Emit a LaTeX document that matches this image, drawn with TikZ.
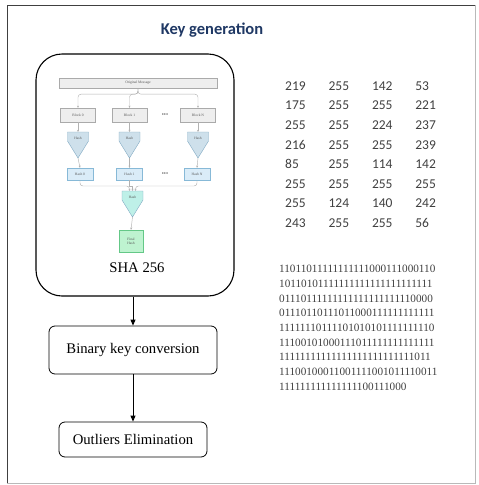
\documentclass[tikz,border=0pt]{standalone}
\usepackage{fontspec}
\setmainfont{Liberation Serif}
\newfontfamily\calibfont{Carlito}
\usetikzlibrary{calc, arrows.meta}

\definecolor{keyblue}{RGB}{31,56,100}
\definecolor{boxline}{RGB}{170,170,170}
\definecolor{boxfill}{RGB}{238,238,238}
\definecolor{funnelline}{RGB}{130,170,195}
\definecolor{funnelfill}{RGB}{206,224,235}
\definecolor{hashfill}{RGB}{218,236,248}
\definecolor{hashline}{RGB}{135,185,215}
\definecolor{finalfill}{RGB}{190,240,232}
\definecolor{finalline}{RGB}{105,200,188}
\definecolor{greenfill}{RGB}{190,243,208}
\definecolor{greenline}{RGB}{100,200,135}

\tikzset{
  minitext/.style={font=\fontsize{3.6}{4}\selectfont, text=gray!70!black, inner sep=0pt},
  block/.style={draw=boxline, fill=boxfill, line width=0.4pt, minimum width=35pt, minimum height=14pt, inner sep=0pt, font=\fontsize{3.6}{4}\selectfont, text=gray!70!black},
  hashbox/.style={block, draw=hashline, fill=hashfill, minimum width=26pt, minimum height=12pt},
  link/.style={draw=gray!60, line width=0.45pt, -{Stealth[length=2.2pt,width=2pt]}},
  flow/.style={draw=black, line width=0.9pt, -{Triangle[length=6pt,width=5pt]}},
  stagebox/.style={draw=black, line width=0.8pt, rounded corners=6pt, inner sep=0pt, font=\fontsize{14.7}{16}\selectfont},
  bytecell/.style={anchor=west, inner sep=0pt, font=\calibfont\fontsize{13.5}{14}\selectfont, text=black!75}
}

% funnel shaped hash stage: name, x, top y, fill, label
\newcommand{\drawHashFunnel}[5]{
  \filldraw[fill=#4, draw=funnelline, line width=0.4pt] (#2-10.5,#3) -- (#2+10.5,#3) -- (#2+10.5,#3+9) -- (#2,#3+26) -- (#2-10.5,#3+9) -- cycle;
  \node[minitext] (#1) at (#2,#3+6) {#5};
  \coordinate (#1top) at (#2,#3);
  \coordinate (#1tip) at (#2,#3+26);
}

\begin{document}
\begin{tikzpicture}[x=1pt, y=-1pt]
  \useasboundingbox (0,0) rectangle (479,485);

  % outer frame
  \draw[black!75, line width=0.9pt] (7,483) -- (7,5) -- (475,5);
  \draw[gray!55, line width=0.7pt] (475,5) -- (475,483) -- (7,483);

  \node[font=\calibfont\bfseries\fontsize{16.5}{18}\selectfont, text=keyblue] (title) at (212,30) {Key generation};

  % SHA 256 stage
  \node[draw=black, line width=1.1pt, rounded corners=26pt, minimum width=198pt, minimum height=242pt] (sha) at (135,175) {};
  \node[block, minimum width=158pt, minimum height=10pt] (msg) at (138,83) {Original Message};
  \node[block] (blk0) at (78,115) {Block 0};
  \node[block] (blk1) at (129.5,115) {Block 1};
  \node[block] (blkN) at (198,115) {Block N};
  \node[font=\fontsize{6}{6}\selectfont, text=black!70] (dotsA) at (165,115) {•••};

  \draw[link, rounded corners=3pt] (msg.south) -- ++(0,6) -| (blk0.north);
  \draw[link, rounded corners=3pt] (msg.south) -- ++(0,6) -| (blk1.north);
  \draw[link, rounded corners=3pt] (msg.south) -- ++(0,6) -| (blkN.north);

  \drawHashFunnel{fun0}{78}{132}{funnelfill}{Hash}
  \drawHashFunnel{fun1}{129.5}{132}{funnelfill}{Hash}
  \drawHashFunnel{funN}{198}{132}{funnelfill}{Hash}
  \draw[link] (blk0.south) -- (fun0top);
  \draw[link] (blk1.south) -- (fun1top);
  \draw[link] (blkN.south) -- (funNtop);

  \node[hashbox] (hs0) at (80,174) {Hash 0};
  \node[hashbox] (hs1) at (129.5,174) {Hash 1};
  \node[hashbox] (hsN) at (197,174) {Hash N};
  \node[font=\fontsize{6}{6}\selectfont, text=black!70] (dotsB) at (165,174) {•••};
  \draw[link] (fun0tip) -- (hs0.north);
  \draw[link] (fun1tip) -- (hs1.north);
  \draw[link] (funNtip) -- (hsN.north);

  \drawHashFunnel{funF}{132.5}{191}{finalfill}{Hash}
  \coordinate (merge) at (132.5,186);
  \draw[link, rounded corners=3pt] (hs0.south) |- ($(merge)+(-3,0)$) -- ($(funFtop)+(-3,0)$);
  \draw[link] (hs1.south) |- (merge) -- (funFtop);
  \draw[link, rounded corners=3pt] (hsN.south) |- ($(merge)+(3,0)$) -- ($(funFtop)+(3,0)$);

  \node[block, draw=greenline, fill=greenfill, minimum width=24pt, minimum height=22pt, align=center] (final) at (131,241) {Final\\Hash};
  \draw[link] (funFtip) -- (final.north);

  \node[font=\fontsize{14.7}{16}\selectfont] (shalabel) at (137,268) {SHA 256};

  % later stages
  \node[stagebox, minimum width=168pt, minimum height=48pt] (bin) at (133,350) {Binary key conversion};
  \node[stagebox, minimum width=148pt, minimum height=35pt] (outl) at (133,439.5) {Outliers Elimination};
  \draw[flow] (sha.south -| bin.north) -- (bin.north);
  \draw[flow] (bin.south) -- (outl.north);

  % generated key bytes
  \foreach \row [count=\r] in {{219,255,142,53},{175,255,255,221},{255,255,224,237},{216,255,255,239},{85,255,114,142},{255,255,255,255},{255,124,140,242},{243,255,255,56}}{
    \foreach \v [count=\c] in \row {
      \node[bytecell] (b\r-\c) at (285+43.4*\c-43.4, 86+19.6*\r-19.6) {\v};
    }
  }

  % the same key as a bit string
  \node[anchor=north west, inner sep=0pt, align=left, font=\fontsize{11.2}{14.7}\selectfont, text=black!75] (bits) at (279,265) {
    11011011111111111000111000110\\
    10110101111111111111111111111\\
    01110111111111111111111110000\\
    01110110111011000111111111111\\
    11111110111101010101111111110\\
    11100101000111011111111111111\\
    11111111111111111111111111011\\
    11100100011001111001011110011\\
    111111111111111100111000};
\end{tikzpicture}
\end{document}
